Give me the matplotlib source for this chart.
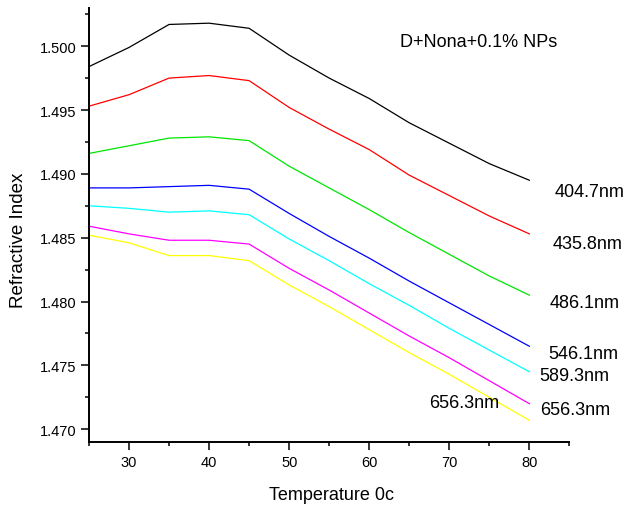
import numpy as np
import matplotlib
matplotlib.use('Agg')
import matplotlib.pyplot as plt
from matplotlib.ticker import MultipleLocator

plt.rcParams['font.family'] = ['Liberation Sans', 'DejaVu Sans']

# Temperature (deg C)
temp = [25, 30, 35, 40, 45, 50, 55, 60, 65, 70, 75, 80]

# refractive index per wavelength
n_404 = [1.4984, 1.4999, 1.5017, 1.5018, 1.5014, 1.4993, 1.4975, 1.4959, 1.4940, 1.4924, 1.4908, 1.4895]
n_435 = [1.4953, 1.4962, 1.4975, 1.4977, 1.4973, 1.4952, 1.4935, 1.4919, 1.4899, 1.4883, 1.4867, 1.4853]
n_486 = [1.4916, 1.4922, 1.4928, 1.4929, 1.4926, 1.4906, 1.4889, 1.4872, 1.4854, 1.4837, 1.4820, 1.4805]
n_546 = [1.4889, 1.4889, 1.4890, 1.4891, 1.4888, 1.4869, 1.4851, 1.4834, 1.4816, 1.4799, 1.4782, 1.4765]
n_589 = [1.4875, 1.4873, 1.4870, 1.4871, 1.4868, 1.4849, 1.4832, 1.4814, 1.4797, 1.4779, 1.4762, 1.4745]
n_656a = [1.4859, 1.4853, 1.4848, 1.4848, 1.4845, 1.4826, 1.4809, 1.4791, 1.4773, 1.4756, 1.4738, 1.4720]
n_656b = [1.4852, 1.4846, 1.4836, 1.4836, 1.4832, 1.4813, 1.4796, 1.4778, 1.4760, 1.4743, 1.4725, 1.4707]

series = [n_404, n_435, n_486, n_546, n_589, n_656a, n_656b]
colors = ['black', 'red', '#00e600', 'blue', 'cyan', 'magenta', 'yellow']

# label text and where it sits (data coords)
labels = ['404.7nm', '435.8nm', '486.1nm', '546.1nm', '589.3nm', '656.3nm', '656.3nm']
label_x = [83.1, 82.85, 82.5, 82.4, 81.3, 81.35, 67.5]
label_y = [1.4886, 1.48455, 1.4799, 1.4759, 1.4742, 1.47156, 1.4721]

fig = plt.figure(figsize=(6.25, 5.06), dpi=100)
ax = fig.add_axes([0.1424, 0.1245, 0.7686, 0.858])

for vals, c in zip(series, colors):
    ax.plot(temp, vals, color=c, lw=0.9)

for t, x, y in zip(labels, label_x, label_y):
    ax.text(x, y, t, fontsize=13, ha='left', va='center')

ax.text(63.8, 1.5004, 'D+Nona+0.1% NPs', fontsize=13, ha='left', va='center')

ax.set_xlim(25, 85)
ax.set_ylim(1.469, 1.503)
ax.xaxis.set_major_locator(MultipleLocator(10))
ax.xaxis.set_minor_locator(MultipleLocator(5))
ax.yaxis.set_major_locator(MultipleLocator(0.005))
ax.yaxis.set_minor_locator(MultipleLocator(0.0025))
ax.yaxis.set_major_formatter(matplotlib.ticker.FormatStrFormatter('%.3f'))

for s in ['top', 'right']:
    ax.spines[s].set_visible(False)
for s in ['left', 'bottom']:
    ax.spines[s].set_linewidth(1.4)

ax.tick_params(which='major', direction='out', length=6, width=1.1, labelsize=10.5, pad=3)
ax.tick_params(which='minor', direction='out', length=3, width=1.1)

ax.set_xlabel('Temperature 0c', fontsize=13)
ax.set_ylabel('Refractive Index', fontsize=13.5)
ax.xaxis.set_label_coords(0.505, -0.12)
ax.yaxis.set_label_coords(-0.147, 0.467)
ax.xaxis.label.set_va('center')
ax.yaxis.label.set_va('center')

fig.savefig('out.png', dpi=100)
